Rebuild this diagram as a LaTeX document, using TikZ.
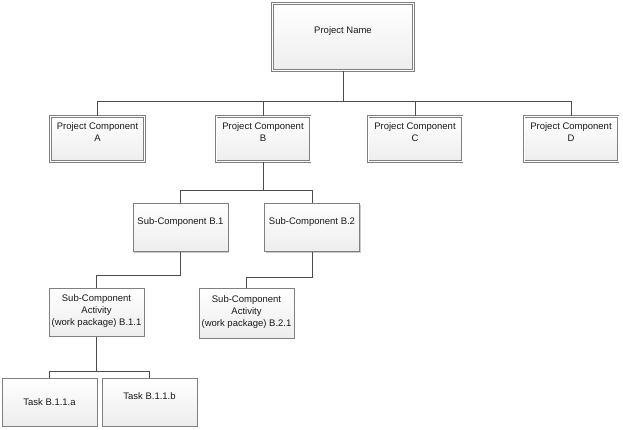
\documentclass[tikz,border=0pt]{standalone}
\usepackage{fontspec}
\setmainfont{Liberation Sans}
\usetikzlibrary{shadows}
\begin{document}
\begin{tikzpicture}[x=1pt,y=-1pt,
  boxbase/.style={rectangle, inner sep=0pt, top color=white, bottom color=black!7,
    drop shadow={shadow xshift=1.2pt, shadow yshift=-1.2pt, opacity=0.35, fill=black!60}},
  dbox/.style={boxbase, draw=black!50, line width=0.9pt, double=white, double distance=0.9pt,
    minimum width=94pt, minimum height=45pt},
  sbox/.style={boxbase, draw=black!50, line width=1pt, minimum width=95pt, minimum height=48pt},
  txt/.style={font=\fontsize{9.5}{12}\selectfont, align=center, inner sep=0pt, text=black!90},
  conn/.style={draw=black!70, line width=1pt}]
\useasboundingbox (0,0) rectangle (623,430);

% top
\node[dbox, minimum width=141pt, minimum height=67pt] (pn) at (343,37) {};
\node[txt] (pnt) at (343,31) {Project Name};

% level 1
\node[dbox] (pa) at (97.5,139) {};
\node[dbox] (pb) at (263,139) {};
\node[dbox] (pc) at (415,139) {};
\node[dbox] (pd) at (571,139) {};
\node[txt] (pat) at (97.5,132.5) {Project Component\\A};
\node[txt] (pbt) at (263,132.5) {Project Component\\B};
\node[txt] (pct) at (415,132.5) {Project Component\\C};
\node[txt] (pdt) at (571,132.5) {Project Component\\D};

% level 2
\node[sbox] (b1) at (180.5,227.5) {};
\node[sbox] (b2) at (312,227.5) {};
\node[txt] (b1t) at (180.5,222) {Sub-Component B.1};
\node[txt] (b2t) at (312,222) {Sub-Component B.2};

% level 3
\node[sbox] (a1) at (96.5,312) {};
\node[sbox, minimum height=50pt] (a2) at (246.5,313) {};
\node[txt] (a1t) at (96.5,311) {Sub-Component\\Activity\\(work package) B.1.1};
\node[txt] (a2t) at (246.5,312) {Sub-Component\\Activity\\(work package) B.2.1};

% level 4
\node[sbox] (ta) at (49.5,402) {};
\node[sbox] (tb) at (149.5,402) {};
\node[txt] (tat) at (49.5,402) {Task B.1.1.a};
\node[txt] (tbt) at (149.5,396) {Task B.1.1.b};

% connectors
\coordinate (bar1) at (343,102);
\coordinate (bar2) at (263,191);
\coordinate (bar3) at (96.5,371);
\draw[conn] (pn.south) -- (bar1);
\draw[conn] (pa.north) |- (bar1);
\draw[conn] (pb.north) |- (bar1);
\draw[conn] (pc.north) |- (bar1);
\draw[conn] (pd.north) |- (bar1);
\draw[conn] (pb.south) -- (bar2);
\draw[conn] (b1.north) |- (bar2);
\draw[conn] (b2.north) |- (bar2);
\draw[conn] (b1.south) -- ++(0,23) -| (a1.north);
\draw[conn] (b2.south) -- ++(0,25) -| (a2.north);
\draw[conn] (a1.south) -- (bar3);
\draw[conn] (ta.north) |- (bar3);
\draw[conn] (tb.north) |- (bar3);
\end{tikzpicture}
\end{document}
